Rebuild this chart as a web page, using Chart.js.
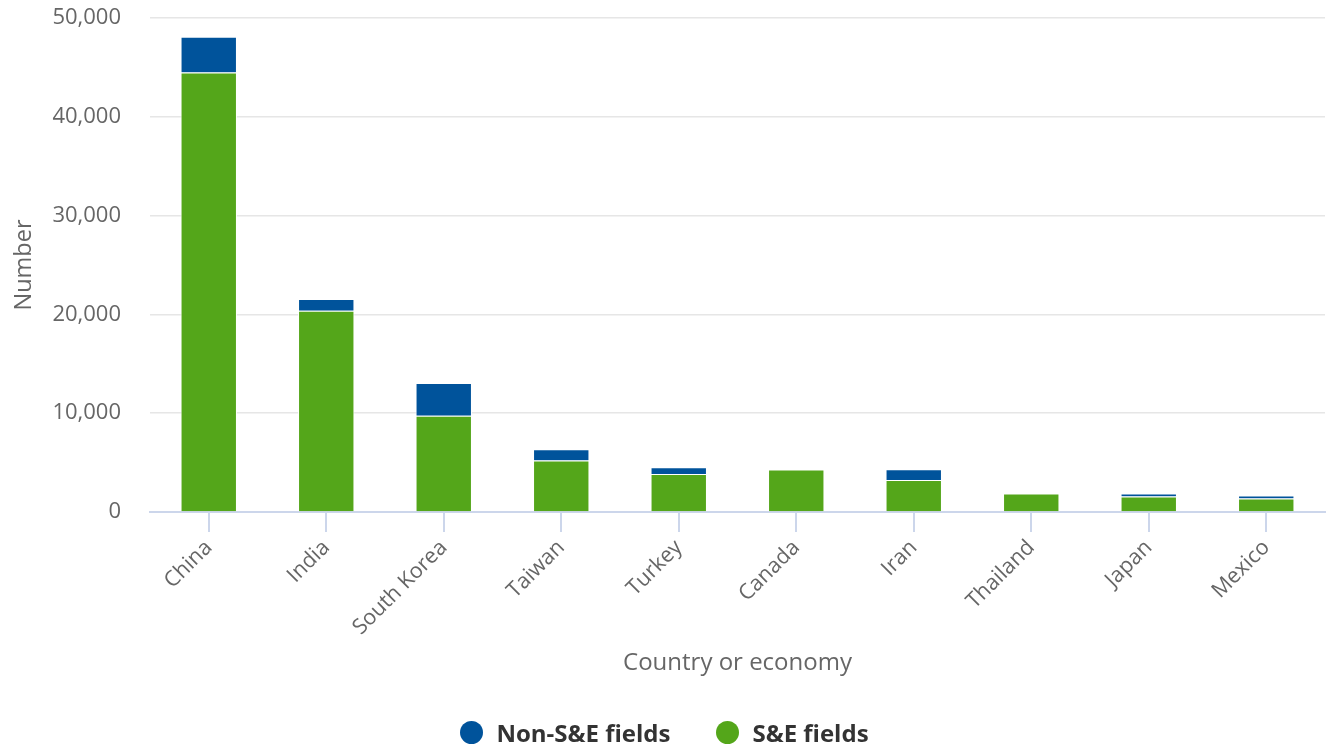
<!DOCTYPE html>
<html><head><meta charset="utf-8">
<script src="https://cdn.jsdelivr.net/npm/chart.js@4/dist/chart.umd.min.js"></script>
<style>
html,body{margin:0;padding:0;background:#fff;}
#wrap{position:relative;width:1329px;height:748px;}
#legend{position:absolute;left:0;top:716px;width:1329px;display:flex;justify-content:center;align-items:center;font-family:'Open Sans',sans-serif;font-weight:bold;font-size:24px;color:#333;}
.item{display:flex;align-items:center;margin:0 23px;}
.dot{width:23px;height:23px;border-radius:50%;margin-right:13px;}
</style>
</head><body><div id="wrap"><canvas id="c" width="1329" height="748"></canvas><div id="legend"></div></div>
<script>
const categories = ['China','India','South Korea','Taiwan','Turkey','Canada','Iran','Thailand','Japan','Mexico'];
const seFields = [44490, 20360, 9730, 5220, 3850, 4300, 3240, 1870, 1570, 1370];
const nonSeFields = [3620, 1200, 3320, 1130, 680, 0, 1080, 0, 310, 310];
const yTickValues = [0, 10000, 20000, 30000, 40000, 50000];
const seriesNames = ['S&E fields', 'Non-S&E fields'];
const seriesColors = ['#54a61a', '#00539b'];

const chart = new Chart(document.getElementById('c'), {
  type: 'bar',
  data: {
    labels: categories,
    datasets: [
      {label: seriesNames[0], data: seFields, backgroundColor: seriesColors[0], borderColor: '#ffffff', borderWidth: 1, barPercentage: 0.48, categoryPercentage: 1},
      {label: seriesNames[1], data: nonSeFields, backgroundColor: seriesColors[1], borderColor: '#ffffff', borderWidth: 1, barPercentage: 0.48, categoryPercentage: 1}
    ]
  },
  options: {
    responsive: false,
    animation: false,
    devicePixelRatio: 1,
    layout: {padding: {top: 18, right: 4, left: 0, bottom: 70}},
    plugins: {legend: {display: false}, tooltip: {enabled: false}},
    scales: {
      x: {
        stacked: true,
        grid: {offset: false, drawOnChartArea: false, drawTicks: true, tickLength: 20, color: '#ccd6eb', lineWidth: 2},
        border: {color: '#ccd6eb', width: 2},
        ticks: {minRotation: 45, maxRotation: 45, autoSkip: false, padding: 3, color: '#666666', font: {family: 'Open Sans', size: 21.5}},
        title: {display: true, text: 'Country or economy', color: '#666666', font: {family: 'Open Sans', size: 24}, padding: 0},
        afterFit: s => { s.height = 166; }
      },
      y: {
        stacked: true,
        min: 0, max: 50000,
        afterBuildTicks: s => { s.ticks = yTickValues.map(v => ({value: v})); },
        grid: {color: '#e6e6e6', lineWidth: 1.5, drawTicks: true, tickLength: 29, tickColor: 'rgba(0,0,0,0)'},
        border: {display: false},
        ticks: {padding: 0, color: '#666666', font: {family: 'Open Sans', size: 22}, callback: v => v.toLocaleString('en-US')},
        title: {display: true, text: 'Number', color: '#666666', font: {family: 'Open Sans', size: 23.5}, padding: {top: 10, bottom: 0}},
        afterFit: s => { s.width = 150; }
      }
    }
  }
});

const legend = document.getElementById('legend');
[1, 0].forEach(i => {
  const it = document.createElement('div'); it.className = 'item';
  const d = document.createElement('span'); d.className = 'dot'; d.style.background = seriesColors[i];
  const t = document.createElement('span'); t.textContent = seriesNames[i];
  it.appendChild(d); it.appendChild(t); legend.appendChild(it);
});
</script></body></html>
